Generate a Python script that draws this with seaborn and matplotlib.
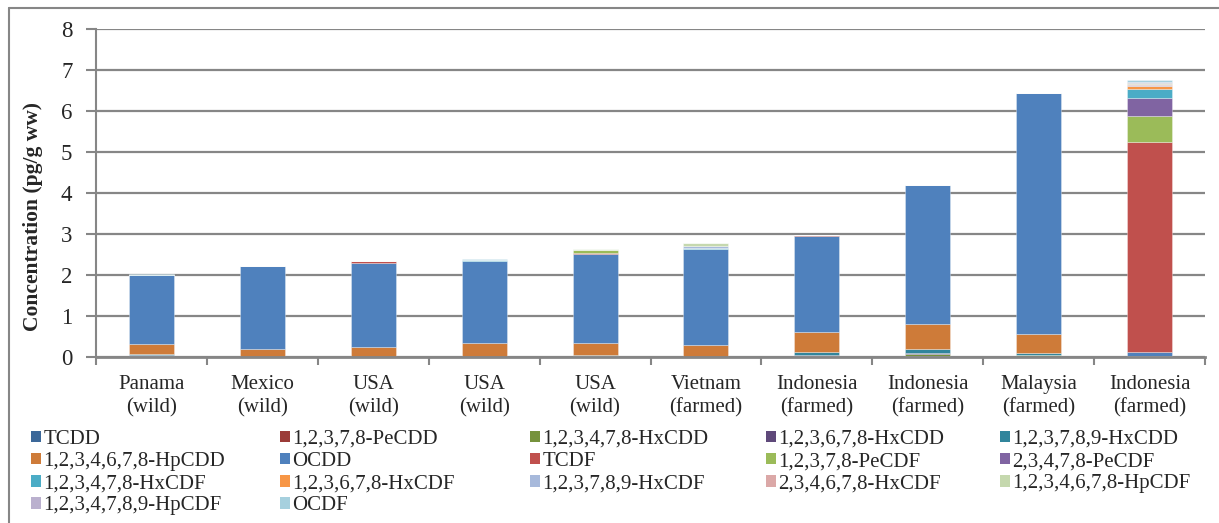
import numpy as np
import pandas as pd
import matplotlib.pyplot as plt
import seaborn as sns
from matplotlib.patches import Patch
from matplotlib.lines import Line2D

sns.set_style('white')
plt.rcParams['font.family'] = ['Liberation Serif', 'DejaVu Serif']
plt.rcParams['font.size'] = 14

# categories (x tick labels)
categories = ['Panama\n(wild)', 'Mexico\n(wild)', 'USA\n(wild)', 'USA\n(wild)', 'USA\n(wild)',
              'Vietnam\n(farmed)', 'Indonesia\n(farmed)', 'Indonesia\n(farmed)',
              'Malaysia\n(farmed)', 'Indonesia\n(farmed)']

congeners = ['TCDD', '1,2,3,7,8-PeCDD', '1,2,3,4,7,8-HxCDD', '1,2,3,6,7,8-HxCDD',
             '1,2,3,7,8,9-HxCDD', '1,2,3,4,6,7,8-HpCDD', 'OCDD', 'TCDF',
             '1,2,3,7,8-PeCDF', '2,3,4,7,8-PeCDF', '1,2,3,4,7,8-HxCDF',
             '1,2,3,6,7,8-HxCDF', '1,2,3,7,8,9-HxCDF', '2,3,4,6,7,8-HxCDF',
             '1,2,3,4,6,7,8-HpCDF', '1,2,3,4,7,8,9-HpCDF', 'OCDF']

colors = ['#3C6899', '#9B3B38', '#76923C', '#5F497A', '#31859C', '#CE7B39', '#4F81BD',
          '#C0504D', '#9BBB59', '#8064A2', '#4BACC6', '#F79646', '#A7B9DB', '#DBA8A7',
          '#C5D8AE', '#BAB0CE', '#A6D0DE']

# concentrations, pg/g ww, one value per category
tcdd         = [0.02, 0.00, 0.00, 0.01, 0.00, 0.00, 0.02, 0.02, 0.01, 0.03]
pecdd        = [0.00, 0.00, 0.00, 0.00, 0.02, 0.00, 0.01, 0.01, 0.00, 0.00]
hxcdd_478    = [0.00, 0.00, 0.00, 0.00, 0.00, 0.00, 0.01, 0.04, 0.05, 0.00]
hxcdd_678    = [0.03, 0.00, 0.00, 0.00, 0.01, 0.00, 0.02, 0.04, 0.00, 0.00]
hxcdd_789    = [0.03, 0.00, 0.00, 0.00, 0.03, 0.00, 0.08, 0.09, 0.04, 0.00]
hpcdd        = [0.25, 0.20, 0.24, 0.33, 0.29, 0.30, 0.47, 0.62, 0.47, 0.00]
ocdd         = [1.67, 2.02, 2.06, 2.01, 2.17, 2.33, 2.35, 3.37, 5.86, 0.10]
tcdf         = [0.00, 0.00, 0.04, 0.00, 0.03, 0.00, 0.03, 0.02, 0.00, 5.12]
pecdf_12378  = [0.00, 0.00, 0.00, 0.00, 0.06, 0.02, 0.00, 0.00, 0.00, 0.64]
pecdf_23478  = [0.00, 0.00, 0.00, 0.00, 0.00, 0.00, 0.00, 0.00, 0.00, 0.43]
hxcdf_123478 = [0.00, 0.00, 0.00, 0.02, 0.00, 0.02, 0.00, 0.00, 0.00, 0.23]
hxcdf_123678 = [0.00, 0.00, 0.00, 0.00, 0.00, 0.00, 0.00, 0.00, 0.00, 0.07]
hxcdf_123789 = [0.00, 0.00, 0.00, 0.00, 0.00, 0.03, 0.00, 0.00, 0.00, 0.02]
hxcdf_234678 = [0.00, 0.00, 0.00, 0.00, 0.00, 0.02, 0.00, 0.00, 0.00, 0.03]
hpcdf_1234678 = [0.01, 0.01, 0.00, 0.01, 0.02, 0.07, 0.00, 0.00, 0.00, 0.02]
hpcdf_1234789 = [0.00, 0.00, 0.00, 0.00, 0.00, 0.00, 0.00, 0.00, 0.00, 0.03]
ocdf         = [0.01, 0.00, 0.00, 0.01, 0.00, 0.00, 0.00, 0.00, 0.00, 0.04]

values = [tcdd, pecdd, hxcdd_478, hxcdd_678, hxcdd_789, hpcdd, ocdd, tcdf,
          pecdf_12378, pecdf_23478, hxcdf_123478, hxcdf_123678, hxcdf_123789,
          hxcdf_234678, hpcdf_1234678, hpcdf_1234789, ocdf]

# long table for seaborn
rows = []
for name, vals in zip(congeners, values):
    for i, v in enumerate(vals):
        rows.append({'pos': i, 'congener': name, 'value': v})
df = pd.DataFrame(rows)

palette = dict(zip(congeners, colors))
grid_col = '#868686'

fig = plt.figure(figsize=(12.19, 5.23), dpi=100)
ax = fig.add_axes([96 / 1219, 1 - 357.3 / 523, 1109 / 1219, 328.3 / 523])
ax.set_axisbelow(True)

# seaborn stacks the last hue level at the bottom, so reverse the order
sns.histplot(data=df, x='pos', weights='value', hue='congener',
             hue_order=congeners[::-1], multiple='stack', discrete=True,
             shrink=0.405, palette=palette, alpha=1, edgecolor=(1, 1, 1, 0.45),
             linewidth=0.5, legend=False, ax=ax)

ax.set_xlim(-0.5, len(categories) - 0.5)
ax.set_ylim(0, 8)
ax.set_yticks(range(0, 9))
ax.yaxis.grid(True, color=grid_col, linewidth=1.6)
ax.xaxis.grid(False)

ax.set_xticks(np.arange(-0.5, len(categories), 1.0))
ax.set_xticklabels([])
ax.set_xticks(range(len(categories)), minor=True)
ax.set_xticklabels(categories, minor=True, fontsize=15, linespacing=1.25)
ax.tick_params(axis='x', which='major', direction='out', length=6, width=1.5,
               color=grid_col, bottom=True)
ax.tick_params(axis='x', which='minor', length=0, pad=13)
ax.tick_params(axis='y', direction='out', length=7, width=1.5, color=grid_col,
               left=True, labelsize=16.5, pad=10)

for side in ['top', 'right']:
    ax.spines[side].set_visible(False)
ax.spines['left'].set_color(grid_col)
ax.spines['left'].set_linewidth(1.5)
ax.spines['bottom'].set_color(grid_col)
ax.spines['bottom'].set_linewidth(2)

ax.set_xlabel('')
ax.set_ylabel('Concentration (pg/g ww)', fontsize=15.5, fontweight='bold')
ax.yaxis.set_label_coords(-0.048, 0.43)

# legend: five columns, filled row by row
col_x = [31, 280, 530, 766, 1000]
for c in range(5):
    idx = list(range(c, len(congeners), 5))
    handles = [Patch(facecolor=colors[k], edgecolor='none') for k in idx]
    labels = [congeners[k] for k in idx]
    fig.legend(handles, labels, loc='upper left',
               bbox_to_anchor=(col_x[c] / 1219, 1 - 430 / 523),
               frameon=False, fontsize=15, handlelength=0.47, handleheight=0.47,
               handletextpad=0.12, labelspacing=0.15, borderpad=0,
               borderaxespad=0)

# chart frame (left and top edges visible)
fig.add_artist(Line2D([9 / 1219, 9 / 1219], [0, 1 - 8 / 523], transform=fig.transFigure,
                      color=grid_col, linewidth=1.5))
fig.add_artist(Line2D([9 / 1219, 1], [1 - 8 / 523, 1 - 8 / 523], transform=fig.transFigure,
                      color=grid_col, linewidth=1.5))

fig.savefig('out.png', dpi=100)
